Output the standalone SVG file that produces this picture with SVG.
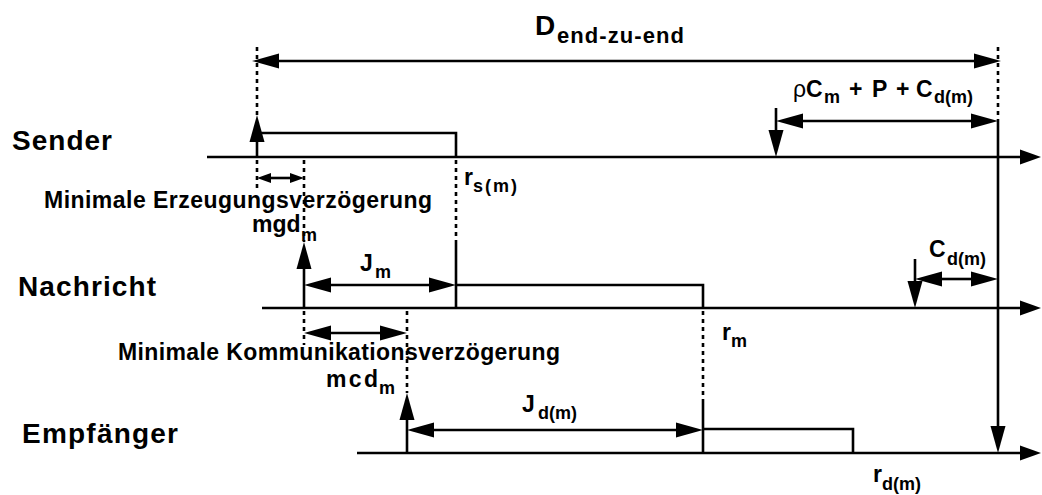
<svg xmlns="http://www.w3.org/2000/svg" width="1042" height="495" viewBox="0 0 1042 495">
  <style>
    text { font-family: "Liberation Sans", Arial, sans-serif; font-weight: bold; fill: #000; }
    .lane { font-size: 28px; }
    .cap { font-size: 23px; }
    .sym { font-size: 23px; }
    .sub { font-size: 18px; }
    .greek { font-size: 23px; font-weight: normal; }
    .ln { stroke: #000; stroke-width: 2.6; fill: none; }
    .dot { stroke: #000; stroke-width: 2.6; fill: none; stroke-dasharray: 4 4; }
    .big { marker-end: url(#head); }
    .dbl { marker-start: url(#head); marker-end: url(#head); }
    .axis { marker-end: url(#axhead); }
  </style>
  <defs>
    <marker id="head" markerUnits="userSpaceOnUse" markerWidth="28" markerHeight="16" viewBox="0 -8 28 16" refX="0" refY="0" orient="auto-start-reverse">
      <path d="M0,-7.5 L27,0 L0,7.5 z" fill="#000"/>
    </marker>
    <marker id="axhead" markerUnits="userSpaceOnUse" markerWidth="22" markerHeight="16" viewBox="0 -8 22 16" refX="0" refY="0" orient="auto">
      <path d="M0,-7.5 L21,0 L0,7.5 z" fill="#000"/>
    </marker>
    <marker id="small" markerUnits="userSpaceOnUse" markerWidth="15" markerHeight="11" viewBox="0 -5.5 15 11" refX="0" refY="0" orient="auto-start-reverse">
      <path d="M0,-5 L14,0 L0,5 z" fill="#000"/>
    </marker>
  </defs>

  <!-- time axes -->
  <g id="axes">
    <path class="ln axis" d="M207,157 H1020"/>
    <path class="ln axis" d="M262,308 H1020"/>
    <path class="ln axis" d="M357,453 H1020"/>
  </g>

  <!-- lanes: title and activity pulse -->
  <g id="sender">
    <text class="lane" x="12" y="150" textLength="100" lengthAdjust="spacing">Sender</text>
    <path class="ln" d="M257,133 H456 V157"/>
  </g>
  <g id="nachricht">
    <text class="lane" x="18" y="296" textLength="138" lengthAdjust="spacing">Nachricht</text>
    <path class="ln" d="M456,240 V308 M456,285 H703 V308"/>
  </g>
  <g id="empfaenger">
    <text class="lane" x="22" y="443" textLength="156" lengthAdjust="spacing">Empfänger</text>
    <path class="ln" d="M703,400 V453 M703,429 H853 V453"/>
  </g>

  <!-- arrows, spans and guides -->
  <g id="connectors">
    <!-- dotted guides -->
    <path class="dot" d="M257,47 V115 M257,160 V190"/>
    <path class="dot" d="M304,160 V242"/>
    <path class="dot" d="M456,160 V240"/>
    <path class="dot" d="M304,311 V345"/>
    <path class="dot" d="M407,311 V393"/>
    <path class="dot" d="M703,311 V400"/>
    <path class="dot" d="M998,47 V121"/>

    <!-- release arrows (up) -->
    <path class="ln big" d="M257,157 V142"/>
    <path class="ln big" d="M304,308 V269"/>
    <path class="ln big" d="M407,453 V420"/>

    <!-- deadline arrows (down) -->
    <path class="ln big" d="M776,108 V130"/>
    <path class="ln big" d="M915,259 V281"/>
    <path class="ln big" d="M998,121 V426"/>

    <!-- span arrows -->
    <path class="ln dbl" d="M279,61 H974"/>
    <path class="ln dbl" d="M803,121 H971"/>
    <path class="ln dbl" d="M331,285 H429"/>
    <path class="ln dbl" d="M942,279 H971"/>
    <path class="ln dbl" d="M434,430 H676"/>
    <path class="ln dbl" d="M331,333 H380"/>
    <path class="ln" d="M271,178 H290" marker-start="url(#small)" marker-end="url(#small)"/>
  </g>

  <!-- labels -->
  <g id="labels">
    <text x="535" y="35" font-size="28">D</text>
    <text x="557" y="43" font-size="22" textLength="127" lengthAdjust="spacing">end-zu-end</text>

    <text class="greek" x="793" y="97">ρ</text>
    <text class="sym" x="806" y="97">C</text>
    <text class="sub" x="824" y="103">m</text>
    <text class="sym" x="849" y="97">+</text>
    <text class="sym" x="872" y="97">P</text>
    <text class="sym" x="896" y="97">+</text>
    <text class="sym" x="916" y="97">C</text>
    <text class="sub" x="934" y="103">d(m)</text>

    <text class="cap" x="44" y="208" textLength="388" lengthAdjust="spacing">Minimale Erzeugungsverzögerung</text>
    <text class="cap" x="252" y="232">mgd</text>
    <text class="sub" x="301" y="241">m</text>

    <text class="sym" x="464" y="185">r</text>
    <text class="sub" x="473" y="192" textLength="44" lengthAdjust="spacing">s(m)</text>

    <text class="sym" x="360" y="271">J</text>
    <text class="sub" x="375" y="278">m</text>

    <text class="sym" x="929" y="257">C</text>
    <text class="sub" x="947" y="265">d(m)</text>

    <text class="cap" x="118" y="360" textLength="442" lengthAdjust="spacing">Minimale Kommunikationsverzögerung</text>
    <text class="cap" x="326" y="387" textLength="52" lengthAdjust="spacing">mcd</text>
    <text class="sub" x="379" y="394">m</text>

    <text class="sym" x="722" y="340">r</text>
    <text class="sub" x="731" y="347">m</text>

    <text class="sym" x="522" y="412">J</text>
    <text class="sub" x="538" y="419">d(m)</text>

    <text class="sym" x="873" y="482">r</text>
    <text class="sub" x="882" y="490">d(m)</text>
  </g>
</svg>
